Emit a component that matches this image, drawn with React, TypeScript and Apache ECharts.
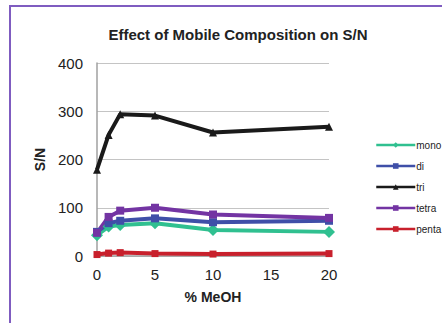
import React, { useEffect, useRef } from "react";
import * as echarts from "echarts";

const xValues = [0, 1, 2, 5, 10, 20];
const mono = [43, 61, 64, 68, 54, 50];
const di = [50, 68, 73, 78, 70, 73];
const tri = [179, 251, 294, 291, 256, 268];
const tetra = [48, 81, 94, 100, 86, 79];
const penta = [3, 6, 7, 5, 4, 5];

const seriesDefs = [
  { name: "mono", data: mono, color: "#30c090", symbol: "diamond", size: 12 },
  { name: "di", data: di, color: "#3f4fa8", symbol: "rect", size: 8 },
  { name: "tri", data: tri, color: "#1a1a1a", symbol: "triangle", size: 8 },
  { name: "tetra", data: tetra, color: "#7334a3", symbol: "rect", size: 8 },
  { name: "penta", data: penta, color: "#c8202c", symbol: "rect", size: 7 },
];

export default function App() {
  const ref = useRef<HTMLDivElement>(null);
  useEffect(() => {
    if (!ref.current) return;
    const chart = echarts.init(ref.current, undefined, { renderer: "svg" });
    chart.setOption({
      animation: false,
      backgroundColor: "#ffffff",
      textStyle: { fontFamily: "Liberation Sans, Arial, sans-serif" },
      title: {
        text: "Effect of Mobile Composition on S/N",
        left: 233,
        top: 22,
        textAlign: "center",
        textStyle: { fontSize: 15, fontWeight: "bold", color: "#222" },
      },
      graphic: [
        {
          type: "rect",
          shape: { x: 10, y: 6, width: 460, height: 340 },
          style: { fill: "none", stroke: "#7f5cc0", lineWidth: 2 },
          silent: true,
        },
      ],
      legend: {
        orient: "vertical",
        left: 370,
        top: 135,
        itemGap: 11,
        itemWidth: 39,
        itemHeight: 7,
        lineStyle: { width: 2.5 },
        data: seriesDefs.map((s) => s.name),
        textStyle: { fontSize: 10, color: "#222", padding: [0, 0, 0, -4] },
      },
      grid: { left: 97, top: 63, right: 113, bottom: 67 },
      xAxis: {
        type: "value",
        min: 0,
        max: 20,
        interval: 5,
        name: "% MeOH",
        nameLocation: "middle",
        nameGap: 34,
        nameTextStyle: { fontSize: 14, fontWeight: "bold", color: "#222" },
        axisLine: { show: true, lineStyle: { color: "#a0a0a0", width: 1.5 } },
        axisTick: { show: false },
        splitLine: { show: false },
        axisLabel: { fontSize: 15, color: "#222", margin: 11 },
      },
      yAxis: {
        type: "value",
        min: 0,
        max: 400,
        interval: 100,
        name: "S/N",
        nameLocation: "middle",
        nameGap: 32,
        nameTextStyle: { fontSize: 14, fontWeight: "bold", color: "#222" },
        axisLine: { show: true, lineStyle: { color: "#a0a0a0", width: 1.5 } },
        axisTick: { show: false },
        splitLine: { show: true, lineStyle: { color: "#c4c4c4", width: 1 } },
        axisLabel: { fontSize: 15, color: "#222", margin: 14 },
      },
      series: seriesDefs.map((s) => ({
        name: s.name,
        type: "line",
        data: xValues.map((x, i) => [x, s.data[i]]),
        symbol: s.symbol,
        symbolSize: s.size,
        showAllSymbol: true,
        lineStyle: { color: s.color, width: 4 },
        itemStyle: { color: s.color },
      })),
    });
    return () => chart.dispose();
  }, []);
  return (
    <div
      ref={ref}
      style={{ position: "fixed", left: 0, top: 0, width: 442, height: 323 }}
    />
  );
}
